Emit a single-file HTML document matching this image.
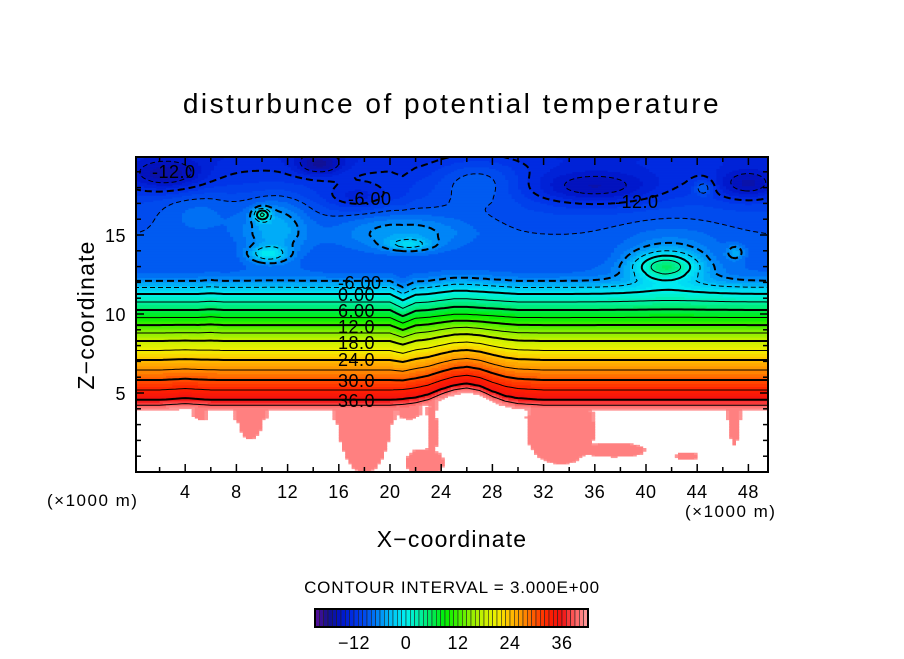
<!DOCTYPE html>
<html><head><meta charset="utf-8">
<style>
html,body{margin:0;padding:0;background:#fff;}
svg text{font-family:"Liberation Sans",sans-serif;fill:#000;}
</style></head>
<body>
<svg id="chart" width="904" height="654" viewBox="0 0 904 654" xmlns="http://www.w3.org/2000/svg">
<defs><clipPath id="plotclip"><rect x="136" y="157" width="632" height="315"/></clipPath></defs>
<text x="452" y="113" font-size="28" text-anchor="middle" letter-spacing="2.5">disturbunce of potential temperature</text>
<g id="field" clip-path="url(#plotclip)"></g>
<g id="lines" clip-path="url(#plotclip)" fill="none" stroke="#000"></g>
<g id="clabels" font-size="18" letter-spacing="0.5">
<text x="152" y="178">-12.0</text>
<text x="348" y="205">-6.00</text>
<text x="615" y="208">-12.0</text>
<text x="338" y="289">-6.00</text>
<text x="338" y="301">0.00</text>
<text x="338" y="317">6.00</text>
<text x="338" y="333">12.0</text>
<text x="338" y="349">18.0</text>
<text x="338" y="366">24.0</text>
<text x="338" y="387">30.0</text>
<text x="338" y="407">36.0</text>
</g>
<rect x="136" y="157" width="632" height="315" fill="none" stroke="#000" stroke-width="2"/>
<g id="axes" font-size="18"></g>
<text x="47" y="506" font-size="17" letter-spacing="1.5">(×1000 m)</text>
<text x="685" y="517" font-size="17" letter-spacing="1.5">(×1000 m)</text>
<text x="452" y="547" font-size="23" text-anchor="middle" letter-spacing="1.2">X−coordinate</text>
<text transform="translate(94,315) rotate(-90)" font-size="23" text-anchor="middle" letter-spacing="1.2">Z−coordinate</text>
<text x="452" y="593" font-size="17" text-anchor="middle" letter-spacing="0.8">CONTOUR INTERVAL = 3.000E+00</text>
<g id="cbar"></g>
</svg>
<script>
// ---- data ----
const profZ = [0, 3.0, 3.9, 4.56, 5.82, 7.09, 8.29, 9.30, 10.25, 11.27, 12.09, 12.6, 13.5, 15, 17, 19, 20];
const profT = [48, 45, 42, 36, 30, 24, 18, 12, 6, 0, -6, -8, -9, -9, -10, -12, -13];
const dLow = [0,0,0,0.05,0.1,0.05,0,0,0,0,0,0,0,0,0,0,0,0,0,0,0,0.05,0.15,0.35,0.7,1.0,1.15,0.95,0.55,0.25,0.1,0.05,0,0,0,0,0,0,0,0,0,0,0,0,0,0,0,0,0,0,0];
const dHigh = [0,0,0,0,0,0,0.05,0,0,0,0,0,0,0,0,0,0,0,0,0,0,-0.4,-0.05,0,0.1,0.2,0.2,0.15,0.1,0.05,0,0,0,0,0,0,0,0,0,0,0,0,0,0,0,0,0,0,0,0,0];
// upper anomalies: x, z, rx, rz, amplitude
const anomX = [2.5, 14.5, 17.5, 36, 48, 11, 10, 10.5, 21, 21.5, 27, 41.5, 42, 44.5, 47, 5];
const anomZ = [18.8, 19.5, 17.4, 18, 18.2, 15.5, 16.3, 13.8, 15.2, 14.4, 18.5, 13, 13.5, 18, 13.9, 16.5];
const anomRX = [3, 1.8, 2.5, 5, 2.5, 2.5, 0.6, 1.5, 5, 1.8, 3.5, 2.5, 4, 0.7, 0.7, 3];
const anomRZ = [1, 0.7, 0.8, 1.1, 1, 1.8, 0.4, 0.5, 1.2, 0.4, 1.5, 0.9, 2, 0.5, 0.5, 1.5];
const anomA = [-5, -5, -3, -5, -5, 5, 10, 7, 4, 5, 3, 11, 3, 4, 4, 2];
// lower pink pockets: x, z, rx, rz
const pinkX = [9.1, 18.0, 22.7, 23.3, 33.3, 37.5, 43.2, 46.9, 5.2, 21.5];
const pinkZ = [3.9, 3.9, 0.6, 2.5, 2.66, 1.4, 1.0, 3.1, 3.7, 3.8];
const pinkRX = [1.2, 2.3, 1.6, 0.5, 2.8, 2.5, 1.0, 0.5, 0.5, 0.9];
const pinkRZ = [1.9, 4.0, 0.9, 2.0, 2.2, 0.5, 0.3, 1.5, 0.5, 0.5];
const xTicks = [4, 8, 12, 16, 20, 24, 28, 32, 36, 40, 44, 48];
const zTicks = [5, 10, 15];
const cbarTicks = [-12, 0, 12, 24, 36];
const levels = [-18,-15,-12,-9,-6,-3,0,3,6,9,12,15,18,21,24,27,30,33,36,39];
const colorStopV = [-21,-18,-15,-12,-9,-6,-3,0,3,6,9,12,15,18,21,24,27,30,33,36,39,42];
const colorStopC = ["#5a0f9a","#14108c","#0014c8","#0030e6","#0050f0","#0090f8","#00c8f8","#00f0f0","#00f0a8","#00ea58","#00f000","#40f000","#90f000","#c8f000","#f0f000","#ffc000","#ff9000","#ff5000","#ff2000","#f01010","#ff6060","#ffa0a0"];

// ---- scales ----
const X = k => 134 + 12.8 * k;
const Z = z => 472 - 15.8 * z;
const NS = "http://www.w3.org/2000/svg";
function el(tag, attrs, parent){const e=document.createElementNS(NS,tag);for(const a in attrs)e.setAttribute(a,attrs[a]);parent.appendChild(e);return e;}
function interp(xs, ys, x){ if(x<=xs[0])return ys[0]; for(let i=1;i<xs.length;i++){ if(x<=xs[i]){const t=(x-xs[i-1])/(xs[i]-xs[i-1]);return ys[i-1]+t*(ys[i]-ys[i-1]);}} return ys[ys.length-1];}
function arrAt(arr, x){ const i=Math.max(0,Math.min(arr.length-2,Math.floor(x))); const t=x-i; return arr[i]*(1-t)+arr[i+1]*t;}
function hex(c){return [parseInt(c.slice(1,3),16),parseInt(c.slice(3,5),16),parseInt(c.slice(5,7),16)];}
function colorFor(v){
  let a,b,t;
  if(v<=colorStopV[0])return colorStopC[0];
  for(let i=1;i<colorStopV.length;i++){ if(v<=colorStopV[i]){a=hex(colorStopC[i-1]);b=hex(colorStopC[i]);t=(v-colorStopV[i-1])/(colorStopV[i]-colorStopV[i-1]);
    return "rgb("+a.map((q,k)=>Math.round(q+(b[k]-q)*t)).join(",")+")";}}
  return colorStopC[colorStopC.length-1];
}
function theta(x, z){
  let w = z<=5?1:(z>=10?0:(10-z)/5);
  const d = arrAt(dLow,x)*w + arrAt(dHigh,x)*(1-w);
  let v = interp(profZ, profT, z - d);
  for(let i=0;i<anomX.length;i++){
    const dx=(x-anomX[i])/anomRX[i], dz=(z-anomZ[i])/anomRZ[i];
    v += anomA[i]*Math.exp(-(dx*dx+dz*dz));
  }
  if(z<4.6){ for(let i=0;i<pinkX.length;i++){
    const dx=(x-pinkX[i])/pinkRX[i], dz=(z-pinkZ[i])/pinkRZ[i];
    if(dx*dx+dz*dz<=1 && v>40) v=40;
  }}
  return v;
}
// ---- grid ----
const dx=0.25, dz=0.1, nx=201, nz=201;
const V=[]; for(let j=0;j<nz;j++){const row=[];for(let i=0;i<nx;i++)row.push(theta(i*dx,j*dz));V.push(row);}
// ---- heatmap ----
const field=document.getElementById('field');
for(let j=0;j<nz-1;j++){
  let runStart=0, runKey=null;
  const keys=[];
  for(let i=0;i<nx-1;i++){ const v=(V[j][i]+V[j][i+1]+V[j+1][i]+V[j+1][i+1])/4; keys.push(v>42?"W":Math.floor(v)); }
  keys.push("END");
  for(let i=0;i<keys.length;i++){
    if(i===0){runKey=keys[0];continue;}
    if(keys[i]!==runKey){
      if(runKey!=="W"){
        const r=el('rect',{x:X(runStart*dx).toFixed(2),y:(Z((j+1)*dz)-0.3).toFixed(2),width:(X(i*dx)-X(runStart*dx)+0.4).toFixed(2),height:(15.8*dz+0.6).toFixed(2),fill:colorFor(runKey+0.5)},field);
        
        
      }
      runStart=i; runKey=keys[i];
    }
  }
}
// ---- contours (marching squares) ----
const lines=document.getElementById('lines');
function contour(L){
  const segs=[], pos=new Map();
  function ep(type,i,j){ const k=type+i+","+j; if(!pos.has(k)){ let x,z;
      if(type==="h"){const a=V[j][i],b=V[j][i+1];const t=(L-a)/(b-a);x=(i+t)*dx;z=j*dz;}
      else {const a=V[j][i],b=V[j+1][i];const t=(L-a)/(b-a);x=i*dx;z=(j+t)*dz;}
      pos.set(k,[X(x),Z(z)]);} return k;}
  for(let j=0;j<nz-1;j++)for(let i=0;i<nx-1;i++){
    const a=V[j][i]>=L,b=V[j][i+1]>=L,c=V[j+1][i+1]>=L,d=V[j+1][i]>=L;
    const es=[];
    if(a!==b)es.push(ep("h",i,j));
    if(b!==c)es.push(ep("v",i+1,j));
    if(d!==c)es.push(ep("h",i,j+1));
    if(a!==d)es.push(ep("v",i,j));
    if(es.length===2)segs.push(es);
    else if(es.length===4){segs.push([es[0],es[1]]);segs.push([es[2],es[3]]);}
  }
  const adj=new Map(); segs.forEach((s,k)=>s.forEach(e=>{if(!adj.has(e))adj.set(e,[]);adj.get(e).push(k);}));
  const used=new Array(segs.length).fill(false); const chains=[];
  function walk(start,si){const pts=[start];let cur=start;while(si!=null&&!used[si]){used[si]=true;const s=segs[si];const nxt=s[0]===cur?s[1]:s[0];pts.push(nxt);cur=nxt;const l=adj.get(cur);const f=l.find(q=>!used[q]);si=f===undefined?null:f;}return pts;}
  adj.forEach((l,k)=>{if(l.length===1&&!used[l[0]])chains.push(walk(k,l[0]));});
  segs.forEach((s,k)=>{if(!used[k])chains.push(walk(s[0],k));});
  return chains.map(c=>c.map(k=>pos.get(k)));
}
levels.forEach(L=>{
  const chains=contour(L);
  chains.forEach(c=>{
    if(c.length<3)return;
    const d="M"+c.map(p=>p[0].toFixed(1)+","+p[1].toFixed(1)).join("L");
    const attrs={d:d,"stroke-width":(L%6===0)?2:1};
    if(L<0)attrs["stroke-dasharray"]=(L%6===0)?"7 4":"5 3";
    const p=el('path',attrs,lines);
    
    
  });
});
// ---- axes ----
const axes=document.getElementById('axes');
for(let k=2;k<=49;k+=2){const major=k%4===0;const len=major?8:5;
  const t1=el('line',{x1:X(k),x2:X(k),y1:472,y2:472-len,stroke:"#000","stroke-width":1.5},axes);
  
  const t2=el('line',{x1:X(k),x2:X(k),y1:157,y2:157+len,stroke:"#000","stroke-width":1.5},axes);
  }
for(let z=1;z<=19;z++){const len=z%5===0?8:5;
  const t1=el('line',{x1:136,x2:136+len,y1:Z(z),y2:Z(z),stroke:"#000","stroke-width":1.5},axes);
  
  const t2=el('line',{x1:768,x2:768-len,y1:Z(z),y2:Z(z),stroke:"#000","stroke-width":1.5},axes);
  }
xTicks.forEach(k=>{const t=el('text',{x:X(k),y:498,"text-anchor":"middle","letter-spacing":0.5},axes);t.textContent=k;
  });
zTicks.forEach(z=>{const t=el('text',{x:126,y:Z(z)+7,"text-anchor":"end","letter-spacing":0.5},axes);t.textContent=z;
  });
// ---- colorbar ----
const cb=document.getElementById('cbar');
const cbL=315, cbR=588, vMin=-21, vMax=42, cw=(cbR-cbL)/(vMax-vMin);
for(let v=vMin;v<vMax;v++){
  const r=el('rect',{x:(cbL+(v-vMin)*cw).toFixed(2),y:609,width:cw.toFixed(2),height:18,fill:colorFor(v+0.5),stroke:"#222","stroke-width":0.6},cb);
  
  
}
el('rect',{x:cbL,y:609,width:cbR-cbL,height:18,fill:"none",stroke:"#000","stroke-width":2},cb);
cbarTicks.forEach(v=>{const t=el('text',{x:(cbL+(v-vMin)*cw).toFixed(1),y:649,"text-anchor":"middle","font-size":18,"letter-spacing":0.5},cb);
  t.textContent=v<0?"−"+Math.abs(v):v;
  });
</script>
</body></html>
